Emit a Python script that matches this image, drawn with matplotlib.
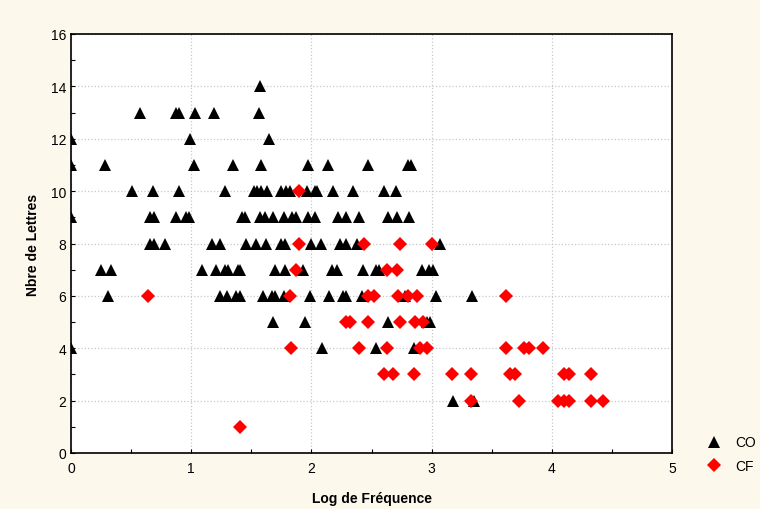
import numpy as np
import matplotlib
matplotlib.use('Agg')
import matplotlib.pyplot as plt
from matplotlib.ticker import MultipleLocator

plt.rcParams['font.family'] = ['Liberation Sans', 'DejaVu Sans']

# CO words: log frequency per word length (Nbre de Lettres)
co_x = {
    14: [1.57],
    13: [0.57, 0.87, 0.90, 1.03, 1.19, 1.56],
    12: [0.0, 0.99, 1.65],
    11: [0.0, 0.28, 1.02, 1.35, 1.58, 1.97, 2.14, 2.47, 2.80, 2.83],
    10: [0.51, 0.68, 0.90, 1.28, 1.52, 1.55, 1.58, 1.63, 1.75, 1.79, 1.82,
         1.96, 2.03, 2.05, 2.18, 2.35, 2.60, 2.70],
    9: [0.0, 0.66, 0.69, 0.87, 0.96, 0.98, 1.42, 1.45, 1.57, 1.61, 1.68,
        1.77, 1.84, 1.87, 1.97, 2.03, 2.22, 2.29, 2.40, 2.64, 2.71, 2.81],
    8: [0.66, 0.69, 0.78, 1.17, 1.24, 1.46, 1.54, 1.62, 1.75, 1.78, 2.00,
        2.08, 2.24, 2.29, 2.38, 3.07],
    7: [0.25, 0.33, 1.09, 1.21, 1.28, 1.31, 1.39, 1.41, 1.70, 1.78, 1.93,
        2.17, 2.21, 2.43, 2.54, 2.56, 2.92, 2.98, 3.01],
    6: [0.31, 1.24, 1.30, 1.37, 1.41, 1.60, 1.67, 1.70, 1.77, 1.99, 2.15,
        2.26, 2.29, 2.42, 2.78, 3.04, 3.34],
    5: [1.68, 1.95, 2.64, 2.96, 2.99],
    4: [0.0, 2.09, 2.54, 2.85],
    2: [3.18, 3.35],
}

# CF words
cf_x = {
    10: [1.90],
    8: [1.90, 2.44, 2.74, 3.00],
    7: [1.87, 2.63, 2.71],
    6: [0.64, 1.82, 2.47, 2.52, 2.72, 2.80, 2.88, 3.62],
    5: [2.29, 2.32, 2.47, 2.74, 2.86, 2.93],
    4: [1.83, 2.40, 2.63, 2.90, 2.96, 3.62, 3.77, 3.81, 3.93],
    3: [2.60, 2.68, 2.85, 3.17, 3.33, 3.65, 3.69, 4.10, 4.14, 4.33],
    2: [3.33, 3.73, 4.05, 4.10, 4.14, 4.33, 4.43],
    1: [1.41],
}


def flatten(d):
    xs, ys = [], []
    for n, vals in d.items():
        xs += vals
        ys += [n] * len(vals)
    return np.array(xs), np.array(ys)


bg = '#fdf8ec'
fig = plt.figure(figsize=(7.6, 5.1), dpi=100, facecolor=bg)
ax = fig.add_axes([71 / 760, 1 - 454 / 510, 601 / 760, 419 / 510])
ax.set_facecolor('white')

x1, y1 = flatten(co_x)
x2, y2 = flatten(cf_x)
ax.plot(x1, y1, linestyle='none', marker='^', ms=8, color='black',
        markeredgewidth=0, label='CO', zorder=3)
ax.plot(x2, y2, linestyle='none', marker='D', ms=7, color='#ff0000',
        markeredgewidth=0, label='CF', zorder=4)

ax.set_xlim(0, 5)
ax.set_ylim(0, 16)
ax.xaxis.set_major_locator(MultipleLocator(1))
ax.xaxis.set_minor_locator(MultipleLocator(0.5))
ax.yaxis.set_major_locator(MultipleLocator(2))
ax.yaxis.set_minor_locator(MultipleLocator(1))
ax.tick_params(which='both', direction='in', length=3, width=0.8,
               labelsize=10, colors='black')
ax.tick_params(axis='x', pad=6)
ax.grid(True, which='major', linestyle=':', color='#c8c8c8', linewidth=0.9)
ax.set_axisbelow(True)

for s in ax.spines.values():
    s.set_linewidth(1.2)
    s.set_color('black')

ax.set_xlabel('Log de Fréquence', fontsize=10, fontweight='bold', labelpad=11)
ax.set_ylabel('Nbre de Lettres', fontsize=10, fontweight='bold', labelpad=8)

leg = ax.legend(loc='lower left', bbox_to_anchor=(1.056, -0.048), frameon=False,
                fontsize=10, handlelength=1.2, handletextpad=0.9,
                labelspacing=0.7, borderaxespad=0, borderpad=0)

fig.savefig('out.png', dpi=100, facecolor=bg)
